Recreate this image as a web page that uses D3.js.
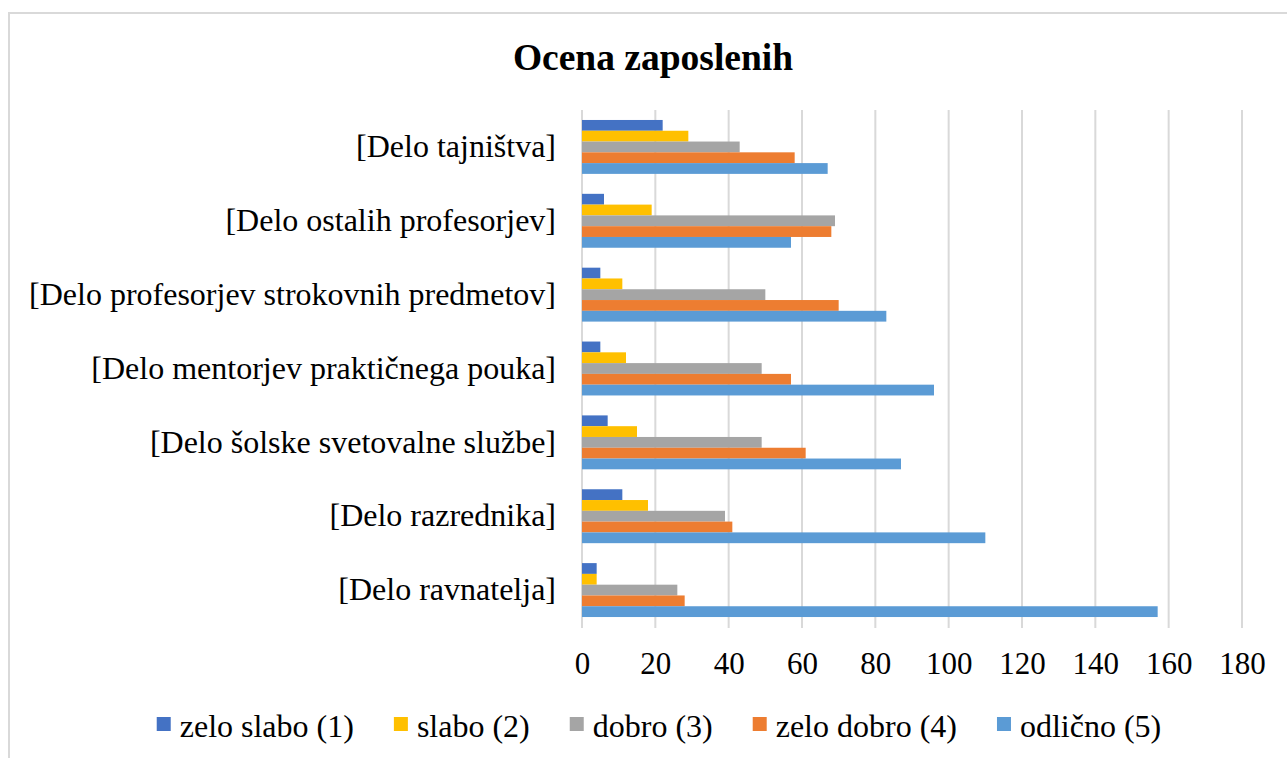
<!DOCTYPE html>
<html>
<head>
<meta charset="utf-8">
<script src="https://cdn.jsdelivr.net/npm/d3@7"></script>
<style>
  body { margin: 0; background: #fff; }
</style>
</head>
<body>
<div id="chart"></div>
<script>
// categories, top to bottom as they appear
var categories = ["[Delo tajništva]", "[Delo ostalih profesorjev]", "[Delo profesorjev strokovnih predmetov]",
    "[Delo mentorjev praktičnega pouka]", "[Delo šolske svetovalne službe]", "[Delo razrednika]", "[Delo ravnatelja]"];

var seriesNames = ["zelo slabo (1)", "slabo (2)", "dobro (3)", "zelo dobro (4)", "odlično (5)"];
var seriesColors = ["#4472C4", "#FFC000", "#A5A5A5", "#ED7D31", "#5B9BD5"];

// values per series, same order as categories
var zeloSlabo = [22, 6, 5, 5, 7, 11, 4];
var slabo     = [29, 19, 11, 12, 15, 18, 4];
var dobro     = [43, 69, 50, 49, 49, 39, 26];
var zeloDobro = [58, 68, 70, 57, 61, 41, 28];
var odlicno   = [67, 57, 83, 96, 87, 110, 157];

var xTicks = [0, 20, 40, 60, 80, 100, 120, 140, 160, 180];

var seriesValues = [zeloSlabo, slabo, dobro, zeloDobro, odlicno];

var FONT = "Liberation Serif";
var width = 1287, height = 758;
var plot = { left: 582, right: 1242, top: 110, bottom: 627 };

var svg = d3.select("#chart").append("svg")
    .attr("width", width)
    .attr("height", height);

// chart frame (only top and left edges are inside the picture)
svg.append("rect")
    .attr("x", 9).attr("y", 13)
    .attr("width", 1300).attr("height", 800)
    .attr("fill", "#fff")
    .attr("stroke", "#d9d9d9")
    .attr("stroke-width", 2);

// title
svg.append("text")
    .attr("x", 653).attr("y", 70)
    .attr("text-anchor", "middle")
    .attr("font-family", FONT)
    .attr("font-size", 37.5)
    .attr("font-weight", "bold")
    .text("Ocena zaposlenih");

var x = d3.scaleLinear()
    .domain([0, 180])
    .range([plot.left, plot.right]);

var y = d3.scaleBand()
    .domain(categories)
    .range([plot.top, plot.bottom])
    .paddingInner(0.27)
    .paddingOuter(0.135);

var ySub = d3.scaleBand()
    .domain(d3.range(seriesNames.length))
    .range([0, y.bandwidth()]);

//Gridlines
svg.append("g")
    .attr("class", "grid")
    .selectAll("line")
    .data(xTicks)
    .enter().append("line")
    .attr("x1", function (d) { return x(d); })
    .attr("x2", function (d) { return x(d); })
    .attr("y1", plot.top)
    .attr("y2", plot.bottom + 1)
    .attr("stroke", "#d9d9d9")
    .attr("stroke-width", 2);

//Bars
var groups = svg.append("g")
    .selectAll("g")
    .data(categories)
    .enter().append("g")
    .attr("transform", function (d) { return "translate(0," + y(d) + ")"; });

groups.selectAll("rect")
    .data(function (d, i) {
        return seriesValues.map(function (vals, s) { return { s: s, v: vals[i] }; });
    })
    .enter().append("rect")
    .attr("x", x(0))
    .attr("y", function (d) { return ySub(d.s); })
    .attr("width", function (d) { return x(d.v) - x(0); })
    .attr("height", ySub.bandwidth())
    .attr("fill", function (d) { return seriesColors[d.s]; });

//X axis labels
var xAxis = svg.append("g")
    .attr("transform", "translate(0," + plot.bottom + ")")
    .call(d3.axisBottom(x).tickValues(xTicks).tickSize(0).tickPadding(25));
xAxis.attr("font-family", FONT).attr("font-size", 31);
xAxis.select(".domain").remove();
xAxis.selectAll("text").attr("fill", "#000");

//Y axis labels
var yAxis = svg.append("g")
    .attr("transform", "translate(" + plot.left + ",0)")
    .call(d3.axisLeft(y).tickSize(0).tickPadding(26));
yAxis.attr("font-family", FONT).attr("font-size", 32);
yAxis.select(".domain").remove();
yAxis.selectAll("text").attr("fill", "#000");

//Legend
var legend = svg.append("g")
    .attr("transform", "translate(0,737)")
    .attr("font-family", FONT)
    .attr("font-size", 32);
var items = legend.selectAll("g")
    .data(seriesNames)
    .enter().append("g");
items.append("rect")
    .attr("y", -20)
    .attr("width", 14).attr("height", 14)
    .attr("fill", function (d, i) { return seriesColors[i]; });
items.append("text")
    .attr("x", 23)
    .attr("fill", "#000")
    .text(function (d) { return d; });

var pos = 0, widths = [];
items.each(function () {
    var w = 23 + d3.select(this).select("text").node().getComputedTextLength();
    widths.push(w);
});
var gap = 40;
var total = d3.sum(widths) + gap * (widths.length - 1);
var start = 659 - total / 2;
items.attr("transform", function (d, i) {
    var tx = start + pos;
    pos += widths[i] + gap;
    return "translate(" + tx + ",0)";
});
</script>
</body>
</html>
